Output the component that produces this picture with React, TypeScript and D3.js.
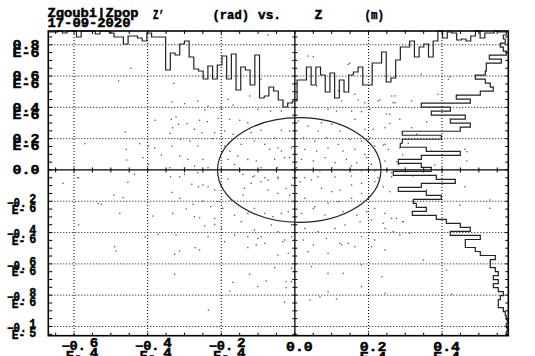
import React from "react";
import * as d3 from "d3";

// ---------- data ----------
const xDomain: [number, number] = [-0.67, 0.58]; // Z (m), units of E-4
const yDomain: [number, number] = [-1.059, 0.888]; // Z' (rad), units of E-6

const xTicks = [-0.6, -0.4, -0.2, 0, 0.2, 0.4];
const xTickHead = ["−0.", "−0.", "−0.", "0.0", "0.2", "0.4"];
const xTickTail = ["6", "4", "2", "", "", ""];
const xTickExp = ["E-4", "E-4", "E-4", "", "E-4", "E-4"];

const yTicks = [0.8, 0.6, 0.4, 0.2, 0, -0.2, -0.4, -0.6, -0.8, -1.0];
const yTickHead = ["0.8", "0.6", "0.4", "0.2", "0.0", "−0.", "−0.", "−0.", "−0.", "−0."];
const yTickTail = ["", "", "", "", "", "2", "4", "6", "8", "1"];
const yTickExp = ["E-6", "E-6", "E-6", "E-6", "", "E-", "E-", "E-", "E-", "E-"];
const yTickExpTail = ["", "", "", "", "", "6", "6", "6", "6", "5"];

// emittance ellipse (centre, half-axes)
const ellipse = { cx: 0.012, cy: 0.0, rx: 0.222, ry: 0.335 };

// projected histogram of Z (bins across the Z range, hanging from the top frame)
const zHist = [
  1, 1, 0, 2, 0, 0, 6, 0, 0, 0, 3, 0, 0, 2, 6, 6, 13, 5, 5, 7, 10, 2, 6, 6, 6,
  39, 22, 24, 13, 10, 26, 38, 40, 48, 35, 48, 34, 25, 48, 23, 59, 36, 39, 54, 24, 67, 65, 56, 60, 69, 76, 72, 70,
  49, 49, 36, 54, 36, 44, 61, 42, 67, 49, 61, 44, 41, 36, 54, 54, 32, 32, 21, 51, 47, 29, 16, 16, 10, 26, 16, 13, 26, 10,
  0, 7, 1, 2, 9, 8, 10, 5, 0, 7, 2, 2, 0, 1, 1,
];

// projected histogram of Z' (bins from top to bottom, hanging from the right frame)
const zpHist = [
  2, 5, 3, 8, 5, 2, 19, 7, 22, 22,
  23, 33, 23, 18, 15, 28, 52, 38, 87, 58,
  77, 43, 58, 38, 48, 106, 67, 106, 108, 82,
  48, 87, 110, 87, 77, 115, 72, 53, 87, 110,
  82, 67, 95, 92, 82, 96, 72, 62, 48, 38,
  58, 28, 43, 43, 33, 28, 13, 18, 18, 13,
  10, 15, 10, 15, 10, 5, 8, 10, 10, 5,
  3, 2, 1, 2, 1, 2,
];

// particles [Z (E-4 m), Z' (E-6 rad)]
const particles: [number, number][] = [
  [-0.073, 0.863], [-0.446, 0.65], [-0.479, 0.569], [-0.329, 0.554], [-0.092, 0.58], [-0.123, 0.473], [-0.096, 0.484],
  [-0.182, 0.452], [-0.334, 0.435], [-0.3, 0.424], [-0.264, 0.441], [-0.236, 0.409], [-0.168, 0.415], [-0.2, 0.394],
  [-0.245, 0.383], [-0.101, 0.388], [-0.066, 0.377], [-0.037, 0.377], [-0.38, 0.318], [-0.336, 0.324], [-0.323, 0.339],
  [-0.259, 0.318], [-0.238, 0.309], [-0.209, 0.33], [-0.177, 0.324], [-0.15, 0.318], [-0.128, 0.302], [-0.293, 0.296],
  [-0.332, 0.27], [-0.316, 0.292], [-0.273, 0.26], [-0.253, 0.238], [-0.461, 0.243], [-0.339, 0.234], [-0.218, 0.238],
  [-0.191, 0.249], [-0.168, 0.228], [-0.119, 0.238], [-0.092, 0.254], [-0.037, 0.254], [-0.571, 0.168], [-0.422, 0.168],
  [-0.399, 0.153], [-0.381, 0.142], [-0.311, 0.196], [-0.286, 0.185], [-0.334, 0.153], [-0.264, 0.153], [-0.223, 0.201],
  [-0.191, 0.153], [-0.177, 0.121], [-0.146, 0.164], [-0.11, 0.185], [-0.082, 0.164], [-0.055, 0.206], [-0.046, 0.142],
  [-0.069, 0.132], [-0.037, 0.121], [-0.458, 0.132], [-0.457, 0.064], [-0.413, 0.079], [-0.363, 0.096], [-0.313, 0.089],
  [-0.291, 0.068], [-0.25, 0.068], [-0.182, 0.068], [-0.155, 0.089], [-0.128, 0.068], [-0.105, 0.058], [-0.055, 0.068],
  [-0.028, 0.079], [-0.399, 0.036], [-0.34, 0.015], [-0.3, 0.015], [-0.273, 0.026], [-0.236, 0.015], [-0.164, 0.036],
  [-0.092, 0.015], [-0.048, 0.015], [-0.59, -0.049], [-0.436, -0.028], [-0.3, -0.028], [-0.264, -0.017], [-0.141, -0.028],
  [-0.11, -0.038], [-0.082, -0.049], [-0.046, -0.045],
  [0.036, 0.728], [0.145, 0.675], [0.344, 0.611], [0.417, 0.58], [0.059, 0.537], [0.118, 0.505], [0.163, 0.484],
  [0.263, 0.473], [0.127, 0.441], [0.19, 0.43], [0.226, 0.441], [0.272, 0.43], [0.317, 0.441], [0.389, 0.484],
  [0.09, 0.388], [0.113, 0.377], [0.154, 0.377], [0.181, 0.373], [0.204, 0.388], [0.258, 0.356], [0.285, 0.324],
  [0.009, 0.313], [0.036, 0.281], [0.072, 0.302], [0.1, 0.292], [0.063, 0.249], [0.122, 0.249], [0.163, 0.324],
  [0.19, 0.26], [0.213, 0.26], [0.245, 0.27], [0.317, 0.27], [-0.014, 0.249], [0.023, 0.206], [0.054, 0.185],
  [0.086, 0.206], [0.118, 0.164], [0.149, 0.196], [0.181, 0.185], [0.204, 0.206], [0.245, 0.164], [0.285, 0.142],
  [0.331, 0.228], [-0.009, 0.142], [0.027, 0.132], [0.059, 0.121], [0.09, 0.142], [0.131, 0.121], [0.163, 0.132],
  [0.19, 0.1], [0.217, 0.153], [0.254, 0.132], [0.371, 0.121], [0.462, 0.132], [-0.014, 0.079], [0.018, 0.068],
  [0.05, 0.058], [0.082, 0.079], [0.109, 0.047], [0.14, 0.068], [0.168, 0.047], [0.195, 0.079], [0.208, 0.036],
  [0.245, 0.058], [0.281, 0.036], [0.467, 0.058], [0.005, 0.015], [0.036, 0.004], [0.068, -0.006], [0.1, 0.015],
  [0.127, 0.004], [0.154, 0.026], [0.181, -0.006], [0.217, -0.006], [0.263, -0.017], [0.29, -0.006], [0.321, -0.038],
  [0.0, -0.038], [0.027, -0.049], [0.063, -0.045], [0.109, -0.045], [0.226, -0.049],
  [-0.588, -0.049], [-0.63, -0.085], [-0.454, -0.079], [-0.338, -0.043], [-0.313, -0.043], [-0.28, -0.091], [-0.262, -0.107],
  [-0.25, -0.096], [-0.236, -0.107], [-0.218, -0.128], [-0.182, -0.058], [-0.137, -0.117], [-0.114, -0.043], [-0.092, -0.075],
  [-0.073, -0.064], [-0.046, -0.053], [-0.119, -0.085], [-0.141, -0.16], [-0.073, -0.128], [-0.046, -0.149], [-0.024, -0.117],
  [-0.492, -0.16], [-0.467, -0.177], [-0.535, -0.213], [-0.526, -0.219], [-0.476, -0.277], [-0.334, -0.143], [-0.313, -0.181],
  [-0.295, -0.249], [-0.277, -0.219], [-0.25, -0.198], [-0.229, -0.234], [-0.209, -0.202], [-0.196, -0.245], [-0.175, -0.192],
  [-0.332, -0.277], [-0.273, -0.298], [-0.259, -0.305], [-0.245, -0.356], [-0.218, -0.309], [-0.218, -0.347], [-0.2, -0.373],
  [-0.164, -0.288], [-0.146, -0.33], [-0.128, -0.277], [-0.11, -0.245], [-0.082, -0.277], [-0.06, -0.298], [-0.037, -0.277],
  [-0.11, -0.383], [-0.092, -0.426], [-0.064, -0.351], [-0.046, -0.394], [-0.028, -0.447], [-0.588, -0.351], [-0.386, -0.294],
  [-0.372, -0.411], [-0.323, -0.415], [-0.236, -0.426], [-0.191, -0.458], [-0.164, -0.415], [-0.128, -0.426], [-0.101, -0.437],
  [-0.082, -0.469], [-0.046, -0.543], [-0.033, -0.458], [-0.49, -0.49], [-0.486, -0.518], [-0.327, -0.539], [-0.313, -0.518],
  [-0.271, -0.496], [-0.259, -0.511], [-0.2, -0.703], [-0.168, -0.718], [-0.177, -0.773], [-0.123, -0.666], [-0.101, -0.745],
  [-0.078, -0.709], [-0.055, -0.624], [-0.024, -0.713], [-0.024, -0.752], [-0.327, -0.666], [-0.235, -0.895], [-0.028, -0.845],
  [-0.407, -0.428], [-0.128, -0.496], [-0.105, -0.479],
  [-0.009, -0.096], [0.014, -0.075], [0.045, -0.064], [0.072, -0.117], [0.1, -0.138], [0.122, -0.128], [0.154, -0.096],
  [0.181, -0.085], [-0.014, -0.16], [0.027, -0.181], [0.054, -0.234], [0.09, -0.213], [0.118, -0.202], [0.154, -0.181],
  [0.181, -0.149], [0.217, -0.075], [-0.018, -0.266], [0.018, -0.277], [0.05, -0.245], [0.082, -0.288], [0.131, -0.266],
  [0.168, -0.288], [0.195, -0.266], [0.217, -0.245], [0.245, -0.277], [0.263, -0.309], [0.294, -0.33], [-0.009, -0.351],
  [0.027, -0.373], [0.063, -0.394], [0.109, -0.373], [0.136, -0.351], [0.177, -0.33], [0.208, -0.319], [0.245, -0.373],
  [0.285, -0.415], [-0.009, -0.426], [0.023, -0.447], [0.05, -0.479], [0.086, -0.437], [0.122, -0.469], [0.145, -0.469],
  [0.181, -0.426], [0.217, -0.447], [0.267, -0.394], [0.3125, -0.405], [-0.018, -0.532], [0.036, -0.522], [0.09, -0.532],
  [0.127, -0.479], [0.163, -0.49], [0.208, -0.49], [0.245, -0.511], [-0.009, -0.628], [0.045, -0.618], [0.09, -0.66],
  [0.131, -0.66], [0.181, -0.607], [0.236, -0.682], [0.349, -0.575], [0.412, -0.639], [-0.009, -0.713], [0.041, -0.831],
  [0.068, -0.81], [0.09, -0.778], [0.113, -0.824], [0.181, -0.745], [0.245, -0.788], [0.426, -0.794], [0.448, -0.224],
  [0.53, -0.245], [0.154, -0.038], [0.263, -0.043],
  [0.272, 0.473], [0.267, 0.43], [0.258, 0.298], [0.249, 0.358], [0.358, 0.309], [0.24, 0.16], [0.308, 0.171],
  [0.467, 0.117], [0.293, 0.096], [0.276, 0.053], [0.38, 0.032], [0.462, -0.107], [0.24, -0.107], [0.258, -0.138],
  [0.358, -0.128], [0.53, -0.192], [0.276, -0.309], [0.24, -0.341], [0.294, -0.33],
  [0.05, 0.724], [0.149, 0.682], [0.421, 0.596], [0.172, 0.447], [0.231, 0.447],
];

// ---------- layout ----------
const W = 535;
const H = 356;
const PL = 48.3;
const PR = 508.3;
const PT = 31;
const PB = 335.7;
const FONT = "'Liberation Mono', 'DejaVu Sans Mono', monospace";

export default function App() {
  const x = d3.scaleLinear().domain(xDomain).range([PL, PR]);
  const y = d3.scaleLinear().domain(yDomain).range([PB, PT]);
  const hs = d3.scaleLinear().domain([0, 100]).range([0, 100]);

  const xMinor = d3.range(-13, 12).map((i) => +(i * 0.05).toFixed(2));
  const yMinor = d3.range(-21, 18).map((i) => +(i * 0.05).toFixed(2));

  // top histogram (Z)
  const bw = (xDomain[1] - xDomain[0]) / zHist.length;
  const topPts: [number, number][] = zHist.map((c, i) => [x(xDomain[0] + i * bw), PT + hs(c)]);
  topPts.push([x(xDomain[1]), PT + hs(zHist[zHist.length - 1])]);
  const topPath = d3.line().curve(d3.curveStepAfter)(topPts) || "";

  // right histogram (Z')
  const bh = (yDomain[1] - yDomain[0]) / zpHist.length;
  const rightPts: [number, number][] = [];
  zpHist.forEach((c, j) => {
    rightPts.push([PR - hs(c), y(yDomain[1] - j * bh)]);
    rightPts.push([PR - hs(c), y(yDomain[1] - (j + 1) * bh)]);
  });
  const rightPath = d3.line()(rightPts) || "";

  const x0 = x(0);
  const y0 = y(0);

  const txt = (s: string, tx: number, ty: number, len: number, key: string, size = 12) =>
    s ? (
      <text
        key={key}
        x={tx}
        y={ty}
        fontFamily={FONT}
        fontWeight="bold"
        fontSize={size}
        textLength={len}
        lengthAdjust="spacingAndGlyphs"
        fill="#000"
        stroke="#000"
        strokeWidth={0.45}
      >
        {s}
      </text>
    ) : null;

  return (
    <svg width={W} height={H} style={{ position: "absolute", left: 0, top: 0, background: "#fff" }}>
      {/* grid */}
      <g stroke="#000" strokeWidth={1} strokeDasharray="1,2">
        {xTicks.filter((v) => v !== 0).map((v) => (
          <line key={"gx" + v} x1={x(v)} x2={x(v)} y1={PT} y2={PB} />
        ))}
        {yTicks.filter((v) => v !== 0).map((v) => (
          <line key={"gy" + v} x1={PL} x2={PR} y1={y(v)} y2={y(v)} />
        ))}
      </g>

      {/* central axes */}
      <g stroke="#000" strokeWidth={1.3}>
        <line x1={x0} x2={x0} y1={PT} y2={PB} />
        <line x1={PL} x2={PR} y1={y0} y2={y0} />
        {yMinor.map((v) => (
          <line key={"cy" + v} x1={x0 - 2.5} x2={x0 + 2.5} y1={y(v)} y2={y(v)} strokeWidth={1} />
        ))}
        {xMinor.map((v) => (
          <line key={"cx" + v} x1={x(v)} x2={x(v)} y1={y0 - 2.5} y2={y0 + 2.5} strokeWidth={1} />
        ))}
      </g>

      {/* particles */}
      <g fill="#555">
        {particles.map(([px, py], i) => (
          <rect key={"p" + i} x={x(px) - 0.6} y={y(py) - 0.6} width={1.3} height={1.3} />
        ))}
      </g>

      {/* ellipse */}
      <ellipse
        cx={x(ellipse.cx)}
        cy={y(ellipse.cy)}
        rx={x(ellipse.cx + ellipse.rx) - x(ellipse.cx)}
        ry={y(ellipse.cy) - y(ellipse.cy + ellipse.ry)}
        fill="none"
        stroke="#222"
        strokeWidth={1.2}
      />

      {/* histograms */}
      <path d={topPath} fill="none" stroke="#222" strokeWidth={1.2} />
      <path d={rightPath} fill="none" stroke="#222" strokeWidth={1.2} />

      {/* frame */}
      <rect x={PL} y={PT} width={PR - PL} height={PB - PT} fill="none" stroke="#000" strokeWidth={1.6} />

      {/* frame ticks */}
      <g stroke="#000" strokeWidth={1}>
        {xMinor.map((v) => (
          <g key={"fx" + v}>
            <line x1={x(v)} x2={x(v)} y1={PB} y2={PB - 3} />
            <line x1={x(v)} x2={x(v)} y1={PT} y2={PT + 3} />
          </g>
        ))}
        {yMinor.map((v) => (
          <g key={"fy" + v}>
            <line x1={PL} x2={PL + 4} y1={y(v)} y2={y(v)} />
            <line x1={PR} x2={PR - 3} y1={y(v)} y2={y(v)} />
          </g>
        ))}
      </g>

      {/* y tick labels */}
      {yTicks.map((v, i) => {
        const ty = y(v);
        if (v >= 0) {
          return (
            <g key={"yl" + i}>
              {txt(yTickHead[i], 12.5, ty + 4.2, 27, "h")}
              {txt(yTickExp[i], 12.5, ty + 11.8, 27, "e")}
            </g>
          );
        }
        return (
          <g key={"yl" + i}>
            {txt(yTickHead[i], 7, ty + 5.8, 19.5, "h")}
            {txt(yTickTail[i], 29.3, ty + 1.8, 7, "t")}
            {txt(yTickExp[i], 11.7, ty + 12.5, 13.5, "e")}
            {txt(yTickExpTail[i], 29.3, ty + 10.8, 7, "et")}
          </g>
        );
      })}

      {/* x tick labels */}
      {xTicks.map((v, i) => {
        const tx = x(v);
        if (v >= 0) {
          return (
            <g key={"xl" + i}>
              {txt(xTickHead[i], tx - 8.8, 350.8, 26.7, "h")}
              {txt(xTickExp[i], tx - 8.8, 360.5, 26.7, "e")}
            </g>
          );
        }
        return (
          <g key={"xl" + i}>
            {txt(xTickHead[i], tx - 12.6, 350.2, 24.5, "h")}
            {txt(xTickTail[i], tx + 15.7, 346.8, 8.5, "t")}
            {txt("E-", tx - 8, 360, 16, "e")}
            {txt("4", tx + 15.7, 357, 8.5, "et")}
          </g>
        );
      })}

      {/* title */}
      {txt("Zgoubi|Zpop", 47.5, 16.7, 91, "t1")}
      {txt("17-09-2020", 47.5, 26.7, 83, "t2")}
      {txt("Z’", 153, 19, 11, "t3")}
      {txt("(rad)", 212.5, 19, 36.5, "t4")}
      {txt("vs.", 258, 19, 23, "t5")}
      {txt("Z", 314.5, 19, 8, "t6")}
      {txt("(m)", 364.5, 19, 19.5, "t7")}
    </svg>
  );
}
